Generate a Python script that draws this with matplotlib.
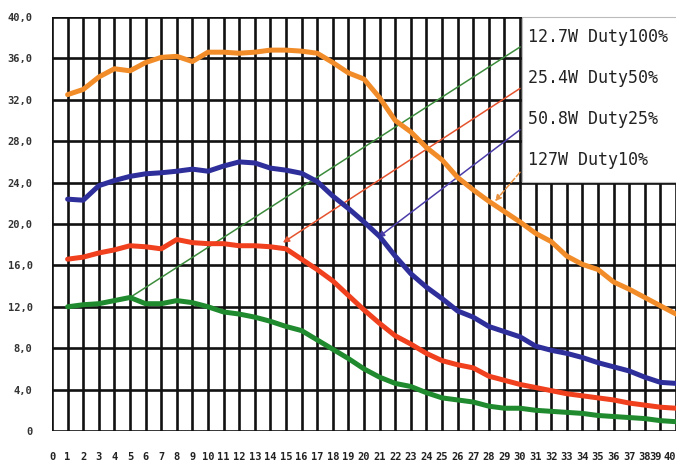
import matplotlib
matplotlib.use("Agg")
import matplotlib.pyplot as plt
from matplotlib.patches import Rectangle

x = list(range(1, 41))
orange = [32.5, 33.0, 34.2, 35.0, 34.8, 35.6, 36.1, 36.2, 35.7, 36.6,
          36.6, 36.5, 36.6, 36.8, 36.8, 36.7, 36.5, 35.6, 34.6, 34.0,
          32.2, 30.0, 28.9, 27.4, 26.2, 24.5, 23.3, 22.2, 21.2, 20.2,
          19.1, 18.3, 16.9, 16.1, 15.6, 14.4, 13.7, 12.9, 12.1, 11.3]
blue = [22.4, 22.3, 23.7, 24.2, 24.6, 24.85, 24.95, 25.1, 25.3, 25.1,
        25.6, 26.0, 25.9, 25.4, 25.2, 24.9, 24.1, 22.7, 21.5, 20.2,
        18.8, 16.9, 15.2, 13.9, 12.8, 11.6, 11.0, 10.1, 9.6, 9.1,
        8.2, 7.8, 7.5, 7.1, 6.6, 6.2, 5.8, 5.2, 4.7, 4.6]
red = [16.6, 16.8, 17.2, 17.5, 17.9, 17.8, 17.6, 18.5, 18.2, 18.1,
       18.1, 17.9, 17.9, 17.8, 17.6, 16.6, 15.6, 14.5, 13.1, 11.7,
       10.4, 9.2, 8.4, 7.5, 6.8, 6.4, 6.1, 5.3, 4.9, 4.5,
       4.2, 3.9, 3.6, 3.4, 3.2, 3.0, 2.7, 2.5, 2.3, 2.2]
green = [12.0, 12.2, 12.3, 12.6, 12.9, 12.3, 12.3, 12.6, 12.4, 12.0,
         11.5, 11.3, 11.0, 10.6, 10.1, 9.7, 8.8, 7.9, 7.0, 6.0,
         5.2, 4.6, 4.3, 3.7, 3.2, 3.0, 2.8, 2.4, 2.2, 2.2,
         2.0, 1.9, 1.8, 1.7, 1.5, 1.4, 1.3, 1.2, 1.0, 0.9]

legend_labels = ["12.7W Duty100%", "25.4W Duty50%", "50.8W Duty25%", "127W Duty10%"]
legend_y = [38.1, 34.1, 30.1, 26.2]
# leader lines: (curve point) -> (legend side point)
leader_from = [(5.0, 12.9), (14.8, 18.2), (20.9, 18.7), (28.4, 22.2)]
leader_to = [(30.0, 37.1), (30.0, 33.1), (30.0, 29.1), (30.0, 25.0)]
leader_arrow = [False, True, True, True]
leader_style = ["-", "-", "-", "--"]

xticks = list(range(0, 41))
yticks = [0, 4, 8, 12, 16, 20, 24, 28, 32, 36, 40]
ytick_labels = ["0", "4,0", "8,0", "12,0", "16,0", "20,0", "24,0", "28,0", "32,0", "36,0", "40,0"]

c_orange = "#F28C28"
c_blue = "#2F2F9C"
c_red = "#F0401E"
c_green = "#1F8A2E"
leader_colors = ["#3C8C3C", "#E5532E", "#4B3DA8", "#E8913E"]

fig = plt.figure(figsize=(6.76, 4.66), dpi=100)
ax = fig.add_axes([52/676, 35/466, 1 - 52/676, (431-17)/466])
ax.set_xlim(0, 40)
ax.set_ylim(0, 40)
ax.set_xticks(xticks)
tick_font = dict(family="DejaVu Sans Mono", fontweight="bold", fontsize=7.5,
                 color="#222222")
# last two labels are placed by hand (squeezed at the right edge)
ax.set_xticklabels([str(v) if v < 39 else "" for v in xticks], **tick_font)
for v, dx, ha in [(xticks[-2], -4.5, "center"), (xticks[-1], -0.5, "right")]:
    ax.annotate(str(v), xy=(v, 0), xycoords=("data", "axes fraction"),
                xytext=(dx, -20.8), textcoords="offset pixels",
                ha=ha, va="top", annotation_clip=False, **tick_font)
ax.set_yticks(yticks)
ax.set_yticklabels(ytick_labels, family="DejaVu Sans Mono",
                   fontweight="bold", fontsize=7.5, color="#333333")
ax.tick_params(axis="x", length=0, pad=15)
ax.tick_params(axis="y", length=0, pad=14)
ax.grid(True, color="#111111", linewidth=1.9, zorder=1)
ax.set_axisbelow(True)
for s in ax.spines.values():
    s.set_visible(False)

for (fx, fy), (tx, ty), arr, ls, col in zip(leader_from, leader_to, leader_arrow,
                                             leader_style, leader_colors):
    if arr:
        ax.annotate("", xy=(fx, fy), xytext=(tx, ty),
                    arrowprops=dict(arrowstyle="-|>", color=col, lw=1.1,
                                    linestyle=ls, mutation_scale=9,
                                    shrinkA=0, shrinkB=0), zorder=2)
    else:
        ax.plot([fx, tx], [fy, ty], color=col, lw=1.1, linestyle=ls, zorder=2)

for ys, col in [(green, c_green), (red, c_red), (blue, c_blue), (orange, c_orange)]:
    ax.plot(x, ys, color=col, lw=3.6, solid_capstyle="round",
            solid_joinstyle="round", zorder=3)

ax.add_patch(Rectangle((30.1, 24.1), 10.5, 15.9, facecolor="white",
                       edgecolor="#bbbbbb", lw=0.8, zorder=4, clip_on=False))
for lab, ly in zip(legend_labels, legend_y):
    ax.text(30.5, ly, lab, family="DejaVu Sans Mono", fontsize=12,
            color="#222222", va="center", ha="left", zorder=5)

fig.savefig("out.png", dpi=100)
